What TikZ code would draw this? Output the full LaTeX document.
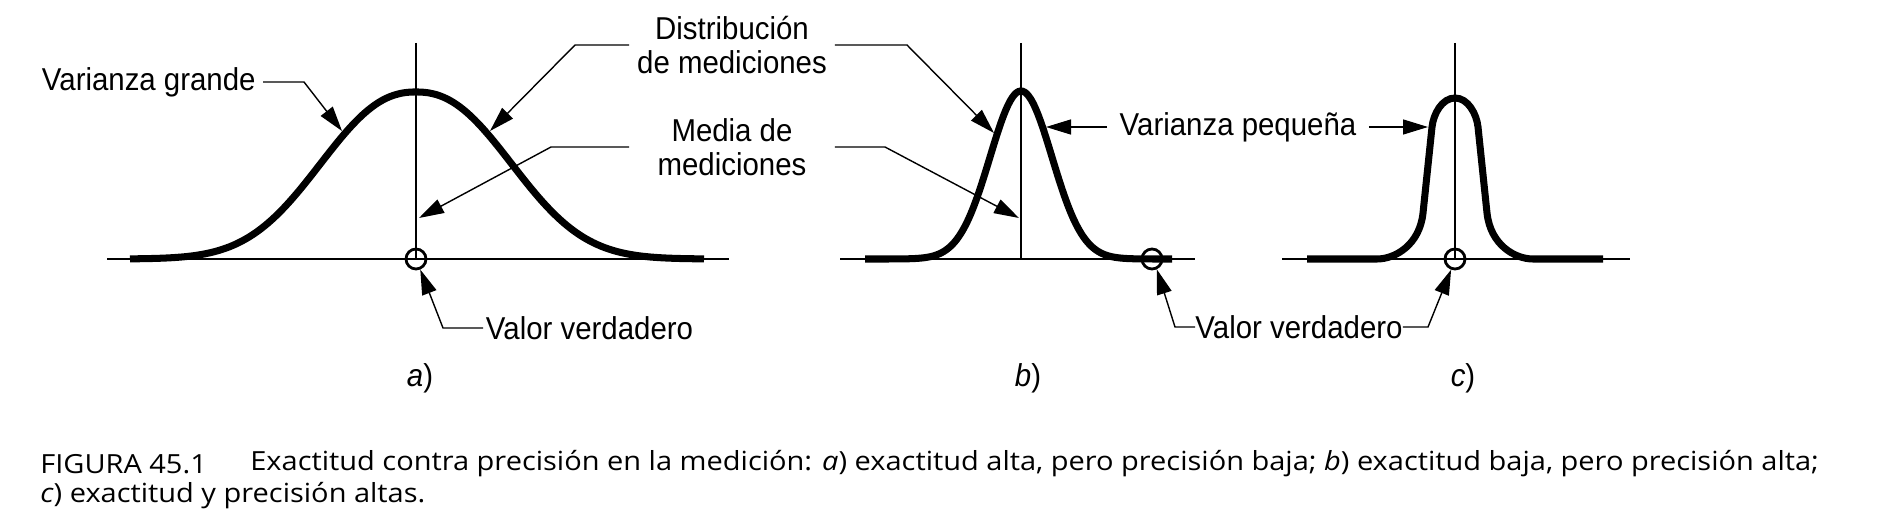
\documentclass[tikz,border=0pt]{standalone}
\usepackage{fontspec}
\usetikzlibrary{arrows.meta}
\newfontfamily\lblfont[FakeStretch=0.93]{Liberation Sans}
\newfontfamily\capfont[FakeStretch=1.10]{Open Sans}

\begin{document}
\begin{tikzpicture}
[x=0.02cm, y=-0.02cm,
 lead/.style={line width=0.8pt, -{Triangle[length=0.5cm,width=0.3cm]}},
 axisln/.style={line width=0.8pt},
 bell/.style={line width=4pt},
 lbl/.style={font={\lblfont\fontsize{18}{19.3}\selectfont}, inner sep=1.5pt},
 truth/.style={circle, draw, line width=1.6pt, minimum size=0.4cm, inner sep=0pt},
 captxt/.style={font={\capfont\fontsize{15}{18}\selectfont}, inner sep=0pt, anchor=west}]
\useasboundingbox (0,0) rectangle (1882,530);

% a) large variance
\draw[axisln] (107,259) -- (729,259);
\draw[axisln] (416,43) -- (416,259);
\draw[bell] plot[domain=130:704, samples=151, smooth]
  (\x, {259-167*exp(-pow((abs(\x-416)+0.01)/122.8, 2.3))});
\node (ca) at (416,259) [truth] {};

% b) small variance, shifted mean
\draw[axisln] (840,259) -- (1195,259);
\draw[axisln] (1021,43) -- (1021,259);
\draw[bell] plot[domain=865:1172, samples=151, smooth]
  (\x, {259-168*exp(-0.5*((\x-1021)/31)^2)});
\node (cb) at (1152,259) [truth] {};

% c) small variance, true mean
\draw[axisln] (1282,259) -- (1630,259);
\draw[axisln] (1455,43) -- (1455,259);
\draw[bell] (1307,259) -- (1377,259)
  .. controls (1395,259) and (1419.6,245) .. (1423,213) -- (1432,127)
  .. controls (1433.4,114) and (1442,98) .. (1455,98)
  .. controls (1468,98) and (1476.6,114) .. (1478,127) -- (1487,213)
  .. controls (1490.4,245) and (1515,259) .. (1533,259) -- (1603,259);
\node (cc) at (1455,259) [truth] {};

% labels
\node (vg) at (263,82) [lbl, anchor=east, inner xsep=4pt] {Varianza grande};
\node (dist) at (732,45) [lbl, align=center, inner sep=0pt, minimum width=4.1cm] {Distribución\\de mediciones};
\node (media) at (732,147) [lbl, align=center, inner sep=0pt, minimum width=4.1cm] {Media de\\mediciones};
\node (vp) at (1238,127) [lbl, inner xsep=7pt] {Varianza pequeña};
\node (vva) at (483,328) [lbl, anchor=west] {Valor verdadero};
\node (vvb) at (1299,327) [lbl, inner sep=0pt] {Valor verdadero};
\node (la) at (420,378) [lbl] {\textit{a})};
\node (lb) at (1028,378) [lbl] {\textit{b})};
\node (lc) at (1463,378) [lbl] {\textit{c})};

% arrow tips on the curves
\coordinate (tvg) at (342,131);
\coordinate (tda) at (490,131);
\coordinate (tdb) at (994,133);
\coordinate (tma) at (419,218);
\coordinate (tmb) at (1019,218);
\coordinate (tvpb) at (1046,127);
\coordinate (tvpc) at (1428,127);

\draw[lead] (vg.east) -- (304,82) -- (tvg);
\draw[lead] (dist.west) -- (575,45) -- (tda);
\draw[lead] (dist.east) -- (907,45) -- (tdb);
\draw[lead] (media.west) -- (551,147) -- (tma);
\draw[lead] (media.east) -- (885,147) -- (tmb);
\draw[lead] (vp.west) -- (tvpb);
\draw[lead] (vp.east) -- (tvpc);
\draw[lead] (vva.west) -- (443,328) -- (ca.-68);
\draw[lead] (vvb.west) -- (1175,327) -- (cb.-65);
\draw[lead] (vvb.east) -- (1428,327) -- (cc.-110);

% caption
\node (fig) at (40,464) [captxt] {FIGURA 45.1};
\node (cap1) at (250,464) [captxt] {Exactitud contra precisión en la medición: \textit{a}) exactitud alta, pero precisión baja; \textit{b}) exactitud baja, pero precisión alta;};
\node (cap2) at (40,496) [captxt] {\textit{c}) exactitud y precisión altas.};
\end{tikzpicture}
\end{document}
